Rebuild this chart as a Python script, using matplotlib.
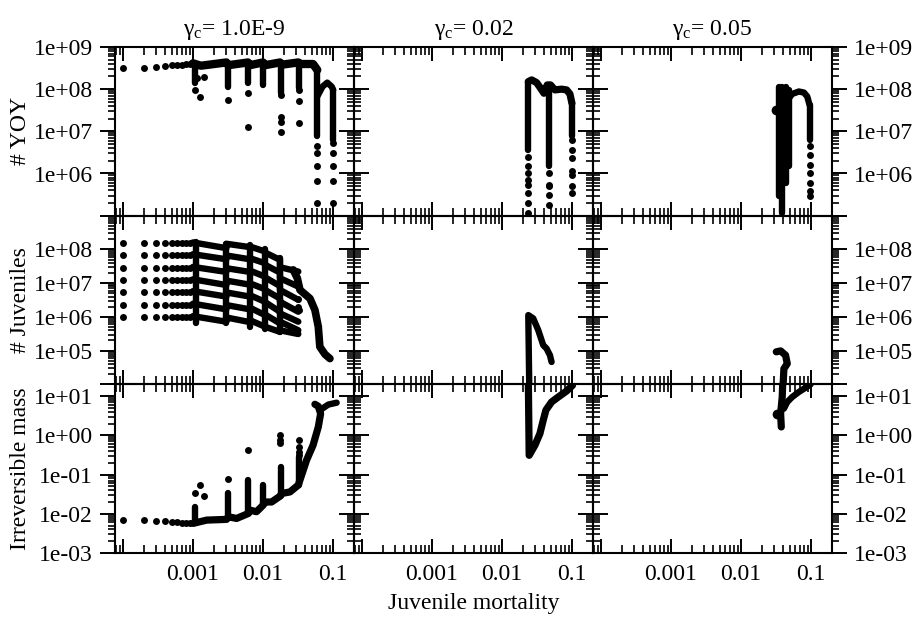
import matplotlib
matplotlib.use("Agg")
import matplotlib.pyplot as plt
from matplotlib.ticker import LogLocator, NullFormatter

plt.rcParams["font.family"] = ["Liberation Serif", "DejaVu Serif"]
plt.rcParams["mathtext.fontset"] = "custom"
plt.rcParams["mathtext.rm"] = "Liberation Serif"
plt.rcParams["mathtext.it"] = "Liberation Serif:italic"

# ---- axes / labels ----
gamma_labels = ["1.0E-9", "0.02", "0.05"]
row_labels = ["# YOY", "# Juveniles", "Irreversible mass"]
x_label = "Juvenile mortality"
x_range = [7.7e-5, 0.2]
x_ticks = [1e-4, 1e-3, 1e-2, 1e-1]
x_tick_labels = ["", "0.001", "0.01", "0.1"]
y_ranges = [[1e5, 1e9], [1e4, 1e9], [1e-3, 20]]
y_ticks = [[1e5, 1e6, 1e7, 1e8, 1e9],
           [1e4, 1e5, 1e6, 1e7, 1e8, 1e9],
           [1e-3, 1e-2, 1e-1, 1e0, 1e1]]
y_tick_labels = [["", "1e+06", "1e+07", "1e+08", "1e+09"],
                 ["", "1e+05", "1e+06", "1e+07", "1e+08", ""],
                 ["1e-03", "1e-02", "1e-01", "1e+00", "1e+01"]]

# mortality values still seen as single dots at the low end
low_mort = [1e-4, 2e-4, 3e-4, 4e-4, 5e-4, 6e-4, 7e-4, 8e-4, 9e-4]

# ---- gamma_c = 1.0E-9 ----
yoy1_low = [3.1e8, 3.25e8, 3.4e8, 3.55e8, 3.65e8, 3.75e8, 3.8e8, 3.9e8, 3.95e8]
yoy1_line_x = [1.0e-3, 1.3e-3, 3.0e-3, 3.2e-3, 6.1e-3, 6.5e-3, 1.0e-2, 1.07e-2,
               1.75e-2, 1.85e-2, 3.2e-2, 3.4e-2, 5.2e-2, 5.97e-2]
yoy1_line_y = [4.1e8, 3.6e8, 4.3e8, 3.7e8, 4.3e8, 3.7e8, 4.3e8, 3.7e8,
               4.3e8, 3.8e8, 4.3e8, 3.95e8, 3.95e8, 2.86e8]
yoy1_arch_x = [5.97e-2, 7.1e-2, 8.3e-2, 9.6e-2, 0.101]
yoy1_arch_y = [6.7e7, 1.15e8, 1.43e8, 1.15e8, 9.6e7]
yoy1_bar_x = [1.07e-3, 3.2e-3, 6.2e-3, 1.01e-2, 1.81e-2, 3.3e-2, 5.97e-2, 0.101]
yoy1_bar_lo = [1.38e8, 1.15e8, 1.38e8, 1.26e8, 8.0e7, 1.05e8, 7.6e6, 6.3e6]
yoy1_bar_hi = [4.26e8, 4.1e8, 4.1e8, 4.1e8, 4.1e8, 4.1e8, 2.86e8, 9.6e7]
yoy1_dot_x = [1.07e-3, 1.26e-3, 1.13e-3, 1.44e-3, 3.2e-3, 6.2e-3, 6.2e-3,
              1.81e-2, 1.81e-2, 1.81e-2, 1.81e-2, 3.3e-2, 3.3e-2, 3.3e-2,
              5.97e-2, 5.97e-2, 5.97e-2, 5.97e-2, 5.97e-2,
              0.101, 0.101, 0.101, 0.101, 0.101]
yoy1_dot_y = [9.6e7, 6.7e7, 1.81e8, 1.92e8, 5.6e7, 8.0e7, 1.3e7,
              7.3e7, 2.24e7, 1.71e7, 9.4e6, 9.6e7, 5.1e7, 1.56e7,
              4.4e6, 3.0e6, 1.53e6, 6.5e5, 2.0e5,
              5.2e6, 3.0e6, 1.53e6, 6.5e5, 2.0e5]

juv1_levels = [1.5e8, 6.6e7, 2.8e7, 1.2e7, 5.3e6, 2.2e6, 9.6e5]
juv1_x = [1.0e-3, 3.0e-3, 3.0e-3, 6.5e-3, 6.5e-3, 1.07e-2, 1.07e-2, 1.75e-2, 1.75e-2, 3.2e-2]
juv1_y = [
    [1.61e8, 1.09e8, 1.47e8, 1.17e8, 1.22e8, 8.7e7, 8.1e7, 4.9e7, 2.97e7, 2.2e7],
    [7.2e7, 5.1e7, 6.6e7, 5.1e7, 5.5e7, 3.9e7, 3.5e7, 2.06e7, 1.40e7, 7.9e6],
    [3.03e7, 2.15e7, 2.77e7, 2.15e7, 2.36e7, 1.56e7, 1.49e7, 8.2e6, 6.3e6, 3.2e6],
    [1.30e7, 8.8e6, 1.19e7, 9.0e6, 9.9e6, 6.6e6, 6.3e6, 3.5e6, 2.8e6, 1.42e6],
    [5.8e6, 4.0e6, 5.3e6, 4.0e6, 4.4e6, 2.8e6, 2.75e6, 1.42e6, 1.27e6, 7.2e5],
    [2.46e6, 1.67e6, 2.24e6, 1.67e6, 1.87e6, 1.13e6, 1.18e6, 6.4e5, 7.2e5, 4.0e5],
    [1.05e6, 7.2e5, 9.6e5, 7.0e5, 8.0e5, 5.1e5, 5.1e5, 3.6e5, 4.0e5, 3.1e5],
]
juv1_tail_x = [2.71e-2, 3.1e-2, 3.38e-2, 4.7e-2, 5.53e-2, 6.18e-2, 6.5e-2, 7.69e-2, 9.06e-2]
juv1_tail_y = [2.47e7, 1.4e7, 6.3e6, 3.5e6, 1.6e6, 5.1e5, 1.3e5, 7.8e4, 5.8e4]
juv1_bar_x = [1.1e-3, 3.0e-3, 6.5e-3, 1.07e-2, 1.75e-2]
juv1_bar_lo = [6.7e5, 6.4e5, 5.1e5, 4.5e5, 3.6e5]
juv1_bar_hi = [1.61e8, 1.47e8, 1.37e8, 1.02e8, 5.5e7]
juv1_dot_x = [3.2e-2, 3.2e-2, 3.3e-2]
juv1_dot_y = [3.5e6, 2.0e6, 1.6e6]

mass1_low = [6.9e-3, 6.9e-3, 6.65e-3, 6.5e-3, 6.3e-3, 6.1e-3, 5.9e-3, 5.8e-3, 5.7e-3]
mass1_x = [1.01e-3, 1.57e-3, 3.03e-3, 3.2e-3, 4.2e-3, 6.2e-3, 6.5e-3, 8.1e-3, 1.01e-2,
           1.07e-2, 1.33e-2, 1.75e-2, 1.85e-2, 2.43e-2, 3.2e-2, 4.2e-2, 5.2e-2,
           6.18e-2, 6.67e-2, 6.18e-2, 5.53e-2]
mass1_y = [5.7e-3, 6.9e-3, 7.2e-3, 8.4e-3, 7.6e-3, 1.02e-2, 1.24e-2, 1.13e-2, 1.67e-2,
           2.0e-2, 2.0e-2, 2.8e-2, 3.3e-2, 3.6e-2, 5.4e-2, 0.233, 0.56,
           1.64, 3.58, 5.5, 6.2]
mass1_branch_x = [6.67e-2, 8.6e-2, 0.113]
mass1_branch_y = [4.5, 6.1, 6.8]
mass1_bar_x = [1.07e-3, 3.2e-3, 6.2e-3, 1.01e-2, 1.81e-2, 3.3e-2]
mass1_bar_lo = [5.7e-3, 7.6e-3, 1.02e-2, 1.67e-2, 2.8e-2, 5.4e-2]
mass1_bar_hi = [1.51e-2, 3.3e-2, 7.2e-2, 5.4e-2, 0.157, 0.28]
mass1_dot_x = [1.07e-3, 1.26e-3, 1.44e-3, 3.2e-3, 6.2e-3, 1.75e-2, 1.75e-2, 1.75e-2,
               3.3e-2, 3.3e-2, 3.3e-2, 3.3e-2]
mass1_dot_y = [3.4e-2, 5.4e-2, 2.8e-2, 7.9e-2, 0.42, 1.0, 0.75, 0.62,
               0.75, 0.51, 0.38, 0.31]

# ---- gamma_c = 0.02 ----
yoy2_arch_x = [0.0238, 0.0266, 0.0313, 0.0357, 0.0398, 0.0444, 0.0495, 0.0571,
               0.0711, 0.0839, 0.0936, 0.1]
yoy2_arch_y = [1.51e8, 1.66e8, 1.43e8, 1.05e8, 8.0e7, 1.26e8, 1.26e8, 9.6e7,
               1.0e8, 9.6e7, 7.7e7, 4.65e7]
yoy2_bar_x = [0.0238, 0.0474, 0.1]
yoy2_bar_lo = [3.65e6, 1.47e6, 7.6e6]
yoy2_bar_hi = [1.51e8, 1.26e8, 4.65e7]
yoy2_dot_x = [0.0238, 0.0238, 0.0238, 0.0238, 0.0238, 0.0238, 0.0238, 0.0238,
              0.0474, 0.0474, 0.0474, 0.0474, 0.0474,
              0.1, 0.1, 0.1, 0.1, 0.1, 0.1, 0.1]
yoy2_dot_y = [2.5e6, 1.47e6, 1.02e6, 7.1e5, 5.4e5, 3.4e5, 2.0e5, 1.16e5,
              1.02e6, 5.4e5, 5.0e5, 3.1e5, 1.82e5,
              6.3e6, 3.65e6, 2.3e6, 1.12e6, 9.4e5, 5.0e5, 3.4e5]

juv2_x = [0.0246, 0.0238, 0.028, 0.033, 0.0389, 0.0434, 0.0485, 0.0512]
juv2_y = [6.6e3, 1.13e6, 9.0e5, 4.05e5, 1.45e5, 1.15e5, 7.3e4, 4.6e4]

mass2_x = [0.0238, 0.0245, 0.0296, 0.0349, 0.0389, 0.0425, 0.0512, 0.0638, 0.0839, 0.102]
mass2_y = [30, 0.31, 0.56, 1.11, 2.43, 4.4, 7.1, 9.5, 13.5, 18.9]

# ---- gamma_c = 0.05 ----
yoy3_bar_x = [0.0349, 0.0389, 0.0434, 0.0485, 0.0957]
yoy3_bar_lo = [2.87e5, 1.16e5, 5.9e5, 1.47e6, 6.3e6]
yoy3_bar_hi = [1.15e8, 1.15e8, 1.15e8, 9.6e7, 4.2e7]
yoy3_arch_x = [0.0485, 0.054, 0.0673, 0.0794, 0.0886, 0.0957]
yoy3_arch_y = [6.1e7, 7.7e7, 8.8e7, 8.3e7, 6.7e7, 4.2e7]
yoy3_dot_x = [0.0313, 0.0957, 0.0957, 0.0957, 0.0957, 0.0957, 0.0957, 0.0957]
yoy3_dot_y = [3.23e7, 4.4e6, 2.78e6, 1.61e6, 1.02e6, 5.9e5, 3.77e5, 2.87e5]

juv3_x = [0.032, 0.0369, 0.0434, 0.0459, 0.0411, 0.0398]
juv3_y = [9.2e4, 9.8e4, 7.3e4, 4.1e4, 2.9e4, 7.4e3]

mass3_x = [0.0398, 0.0389, 0.0369, 0.0377]
mass3_y = [30, 9.5, 3.6, 1.64]
mass3_branch_x = [0.0411, 0.0459, 0.054, 0.0673, 0.0839, 0.0988]
mass3_branch_y = [4.8, 7.1, 9.5, 12.8, 16.4, 20]
mass3_dot_x = [0.033]
mass3_dot_y = [3.6]

LW = 4.6
MS = 5.0


def curve(ax, x, y, lw=LW):
    ax.plot(x, y, color="black", lw=lw, solid_capstyle="round", solid_joinstyle="round")


def dots(ax, x, y, ms=MS):
    ax.plot(x, y, "o", color="black", ms=ms, mec="none", ls="none")


def bars(ax, x, lo, hi, lw=LW):
    ax.vlines(x, lo, hi, color="black", lw=lw, capstyle="round")


fig, axes = plt.subplots(3, 3, figsize=(9.19, 6.28), dpi=100)
fig.subplots_adjust(left=115 / 919, right=832 / 919, top=1 - 47 / 628,
                    bottom=1 - 553 / 628, wspace=0, hspace=0)

for r in range(3):
    for c in range(3):
        ax = axes[r, c]
        ax.set_facecolor("none")
        ax.set_xscale("log")
        ax.set_yscale("log")
        ax.set_xlim(x_range)
        ax.set_ylim(y_ranges[r])
        ax.set_xticks(x_ticks)
        ax.set_xticklabels(x_tick_labels if r == 2 else [""] * len(x_ticks))
        ax.set_yticks(y_ticks[r])
        ax.set_yticklabels(y_tick_labels[r])
        ax.xaxis.set_minor_locator(LogLocator(base=10, subs=[2, 3, 4, 5, 6, 7, 8, 9], numticks=50))
        ax.yaxis.set_minor_locator(LogLocator(base=10, subs=[2, 3, 4, 5, 6, 7, 8, 9], numticks=50))
        ax.xaxis.set_minor_formatter(NullFormatter())
        ax.yaxis.set_minor_formatter(NullFormatter())
        ax.tick_params(axis="x", which="both", direction="in", top=True, bottom=True,
                       labelsize=17, pad=8)
        ax.tick_params(axis="x", which="major", length=10, width=1.4)
        ax.tick_params(axis="x", which="minor", length=6, width=1.2)
        ax.tick_params(axis="y", which="both", direction="out", left=True, right=True,
                       labelleft=(c == 0), labelright=(c == 2), labelsize=17, pad=5.5)
        ax.tick_params(axis="y", which="major", length=10.5, width=1.4)
        ax.tick_params(axis="y", which="minor", length=5, width=1.2)
        for sp in ax.spines.values():
            sp.set_linewidth(1.5)
        if r == 0:
            ax.set_title("γ$_\\mathrm{c}$= " + gamma_labels[c], fontsize=17, pad=9)
        if c == 0:
            ax.set_ylabel(row_labels[r], fontsize=17, labelpad=2)

# column 1
ax = axes[0, 0]
dots(ax, low_mort, yoy1_low)
curve(ax, yoy1_line_x, yoy1_line_y, lw=6)
curve(ax, yoy1_arch_x, yoy1_arch_y)
bars(ax, yoy1_bar_x, yoy1_bar_lo, yoy1_bar_hi)
dots(ax, yoy1_dot_x, yoy1_dot_y)

ax = axes[1, 0]
for lvl, ys in zip(juv1_levels, juv1_y):
    dots(ax, low_mort, [lvl] * len(low_mort))
    curve(ax, juv1_x, ys)
curve(ax, juv1_tail_x, juv1_tail_y, lw=5.5)
bars(ax, juv1_bar_x, juv1_bar_lo, juv1_bar_hi)
dots(ax, juv1_dot_x, juv1_dot_y)

ax = axes[2, 0]
dots(ax, low_mort, mass1_low)
curve(ax, mass1_x, mass1_y, lw=5.2)
curve(ax, mass1_branch_x, mass1_branch_y)
bars(ax, mass1_bar_x, mass1_bar_lo, mass1_bar_hi)
dots(ax, mass1_dot_x, mass1_dot_y)

# column 2
ax = axes[0, 1]
curve(ax, yoy2_arch_x, yoy2_arch_y, lw=5.2)
bars(ax, yoy2_bar_x, yoy2_bar_lo, yoy2_bar_hi)
dots(ax, yoy2_dot_x, yoy2_dot_y)

curve(axes[1, 1], juv2_x, juv2_y)
curve(axes[2, 1], mass2_x, mass2_y, lw=5.2)

# column 3
ax = axes[0, 2]
bars(ax, yoy3_bar_x, yoy3_bar_lo, yoy3_bar_hi)
curve(ax, yoy3_arch_x, yoy3_arch_y)
dots(ax, yoy3_dot_x, yoy3_dot_y)
dots(ax, yoy3_dot_x[:1], yoy3_dot_y[:1], ms=7)

curve(axes[1, 2], juv3_x, juv3_y, lw=5.2)

ax = axes[2, 2]
curve(ax, mass3_x, mass3_y, lw=5.2)
curve(ax, mass3_branch_x, mass3_branch_y)
dots(ax, mass3_dot_x, mass3_dot_y, ms=7)

fig.text((115 + 832) / 2 / 919, 1 - 603 / 628, x_label, ha="center", va="center", fontsize=17)

fig.savefig("out.png", dpi=100)
